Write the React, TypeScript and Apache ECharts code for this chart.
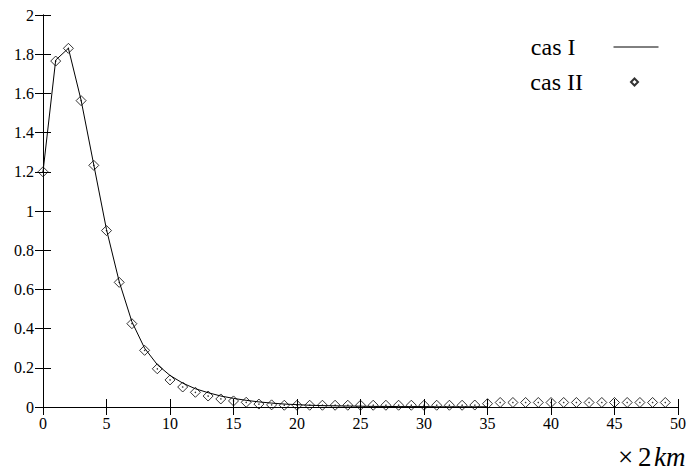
import React, { useEffect, useRef } from "react";
import * as echarts from "echarts";

const xMin = 0;
const xMax = 50;
const xInterval = 5;
const yMin = 0;
const yMax = 2;
const yInterval = 0.2;

// cas I : line (x = 0..35)
const casIValues = [
  1.2, 1.77, 1.83, 1.565, 1.235, 0.905, 0.64, 0.435, 0.3, 0.216,
  0.161, 0.122, 0.093, 0.073, 0.056, 0.044, 0.034, 0.026, 0.02, 0.015,
  0.012, 0.009, 0.007, 0.006, 0.005, 0.004, 0.003, 0.003, 0.002, 0.002,
  0.002, 0.001, 0.001, 0.001, 0.001, 0.001,
];

// cas II : diamonds (x = 0..49)
const casIIValues = [
  1.2, 1.765, 1.83, 1.563, 1.233, 0.9, 0.636, 0.425, 0.289, 0.195,
  0.138, 0.102, 0.075, 0.056, 0.041, 0.031, 0.024, 0.015, 0.011, 0.009,
  0.009, 0.009, 0.009, 0.009, 0.009, 0.009, 0.009, 0.009, 0.009, 0.009,
  0.009, 0.009, 0.009, 0.009, 0.01, 0.017, 0.023, 0.023, 0.023, 0.023,
  0.023, 0.023, 0.023, 0.023, 0.023, 0.023, 0.023, 0.023, 0.023, 0.023,
];

const seriesNames = ["cas I", "cas II"];
const unitFactor = "2";
const unitName = "km";

const FONT = "Liberation Serif";

export default function App() {
  const ref = useRef<HTMLDivElement>(null);

  useEffect(() => {
    if (!ref.current) return;
    const chart = echarts.init(ref.current, null, { renderer: "svg" });
    const casIData = casIValues.map((v, i) => [i, v]);
    const casIIData = casIIValues.map((v, i) => [i, v]);

    const baseAxisLine = { show: true, lineStyle: { color: "#000", width: 1 } };
    const tick = { show: true, inside: true, length: 8, lineStyle: { color: "#000", width: 1 } };
    const label = { color: "#000", fontFamily: FONT, fontSize: 16 };
    const legendFont = 24;
    const unitFont = 27;
    const unitY = 457;

    chart.setOption({
      animation: false,
      backgroundColor: "#fff",
      grid: { left: 43, right: 20, top: 15, bottom: 65, containLabel: false },
      xAxis: [
        {
          type: "value",
          min: xMin,
          max: xMax,
          interval: xInterval,
          position: "bottom",
          axisLine: baseAxisLine,
          axisTick: tick,
          axisLabel: { ...label, margin: 8 },
          splitLine: { show: false },
        },
        {
          type: "value",
          min: xMin,
          max: xMax,
          interval: xInterval,
          position: "top",
          axisLine: baseAxisLine,
          axisTick: tick,
          axisLabel: { show: false },
          splitLine: { show: false },
        },
      ],
      yAxis: [
        {
          type: "value",
          min: yMin,
          max: yMax,
          interval: yInterval,
          position: "left",
          axisLine: baseAxisLine,
          axisTick: tick,
          axisLabel: { ...label, margin: 9 },
          splitLine: { show: false },
        },
        {
          type: "value",
          min: yMin,
          max: yMax,
          interval: yInterval,
          position: "right",
          axisLine: baseAxisLine,
          axisTick: tick,
          axisLabel: { show: false },
          splitLine: { show: false },
        },
      ],
      legend: [
        {
          orient: "vertical",
          right: 39,
          top: 47 - legendFont / 2,
          padding: 0,
          align: "right",
          itemWidth: 45,
          itemHeight: 8,
          itemStyle: { opacity: 0 },
          lineStyle: { color: "#000", width: 1, opacity: 1 },
          textStyle: {
            fontFamily: FONT,
            fontSize: legendFont,
            color: "#000",
            padding: [0, 33, 0, 0],
          },
          data: [{ name: seriesNames[0] }],
        },
        {
          orient: "vertical",
          right: 59,
          top: 82 - legendFont / 2,
          padding: 0,
          align: "right",
          itemWidth: 7,
          itemHeight: 7,
          textStyle: {
            fontFamily: FONT,
            fontSize: legendFont,
            color: "#000",
            padding: [0, 43, 0, 0],
          },
          data: [{ name: seriesNames[1], icon: "diamond" }],
        },
      ],
      series: [
        {
          name: seriesNames[0],
          type: "line",
          data: casIData,
          symbol: "none",
          lineStyle: { color: "#000", width: 1 },
          itemStyle: { color: "#000" },
          z: 2,
        },
        {
          name: seriesNames[1],
          type: "scatter",
          data: casIIData,
          symbol: "diamond",
          symbolSize: 10,
          itemStyle: { color: "transparent", borderColor: "#000", borderWidth: 1 },
          z: 3,
        },
        {
          name: seriesNames[1],
          type: "scatter",
          data: casIIData,
          symbol: "circle",
          symbolSize: 1.5,
          itemStyle: { color: "#000" },
          silent: true,
          z: 4,
        },
      ],
      graphic: [
        {
          type: "text",
          x: 618,
          y: unitY,
          style: {
            text: "×",
            fontFamily: FONT,
            fontSize: unitFont,
            fill: "#000",
            align: "left",
            verticalAlign: "middle",
          },
        },
        {
          type: "text",
          x: 638,
          y: unitY,
          style: {
            text: unitFactor,
            fontFamily: FONT,
            fontSize: unitFont,
            fill: "#000",
            align: "left",
            verticalAlign: "middle",
          },
        },
        {
          type: "text",
          x: 654,
          y: unitY,
          style: {
            text: unitName,
            fontFamily: FONT,
            fontStyle: "italic",
            fontSize: unitFont,
            fill: "#000",
            align: "left",
            verticalAlign: "middle",
          },
        },
      ],
    });

    return () => chart.dispose();
  }, []);

  return (
    <div
      ref={ref}
      style={{ position: "fixed", left: 0, top: 0, width: 698, height: 472, background: "#fff" }}
    />
  );
}
